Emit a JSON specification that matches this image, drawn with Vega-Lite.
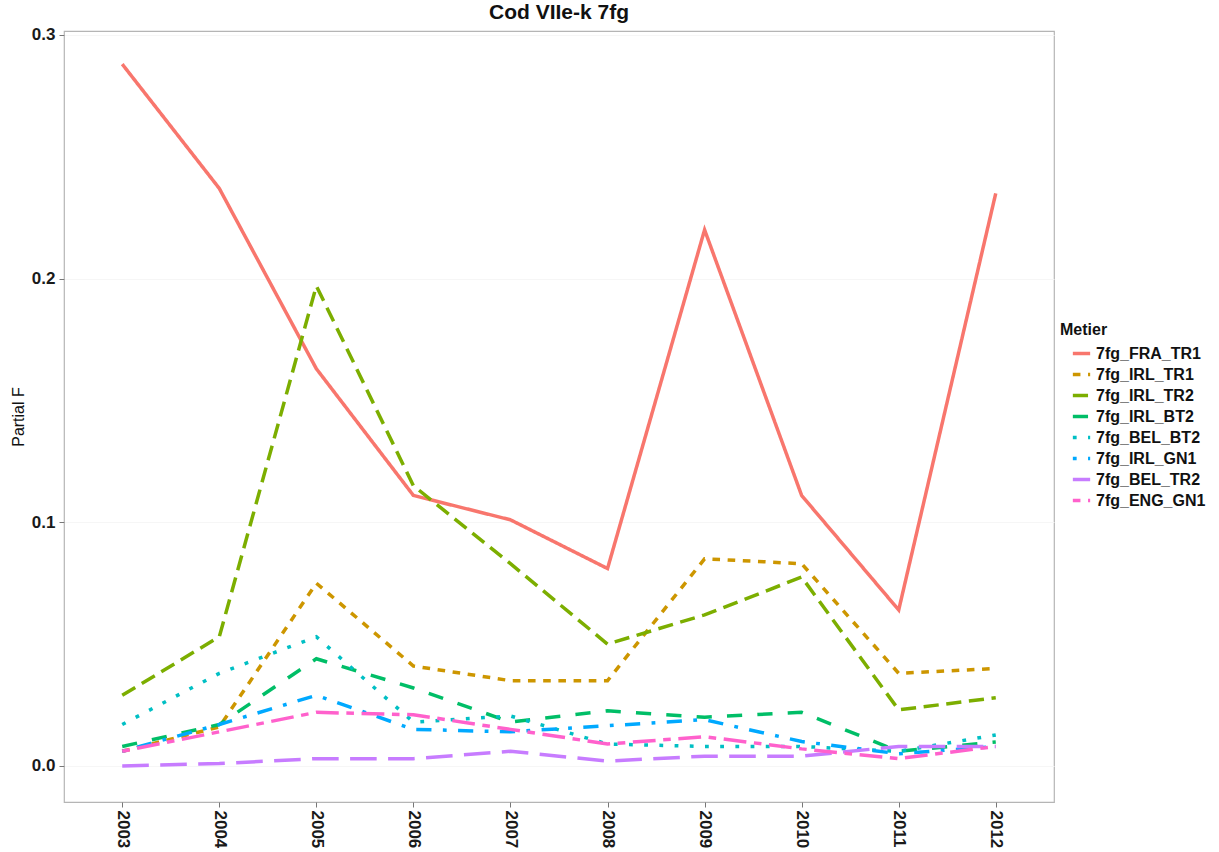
{
  "$schema": "https://vega.github.io/schema/vega-lite/v6.json",
  "autosize": "none",
  "width": 990,
  "height": 771,
  "padding": {"left": 64, "top": 31, "right": 165, "bottom": 50},
  "background": "white",
  "title": {"text": "Cod VIIe-k 7fg", "font": "Liberation Sans", "fontSize": 21, "fontWeight": "bold", "color": "#111111", "anchor": "middle", "offset": 3},
  "config": {
    "view": {"stroke": "#b5b5b5", "strokeWidth": 1.2},
    "font": "Liberation Sans"
  },
  "data": {"values": [
    {"year": "2003", "metier": "7fg_FRA_TR1", "f": 0.288},
    {"year": "2004", "metier": "7fg_FRA_TR1", "f": 0.237},
    {"year": "2005", "metier": "7fg_FRA_TR1", "f": 0.163},
    {"year": "2006", "metier": "7fg_FRA_TR1", "f": 0.111},
    {"year": "2007", "metier": "7fg_FRA_TR1", "f": 0.101},
    {"year": "2008", "metier": "7fg_FRA_TR1", "f": 0.081},
    {"year": "2009", "metier": "7fg_FRA_TR1", "f": 0.220},
    {"year": "2010", "metier": "7fg_FRA_TR1", "f": 0.111},
    {"year": "2011", "metier": "7fg_FRA_TR1", "f": 0.064},
    {"year": "2012", "metier": "7fg_FRA_TR1", "f": 0.235},
    {"year": "2003", "metier": "7fg_IRL_TR1", "f": 0.006},
    {"year": "2004", "metier": "7fg_IRL_TR1", "f": 0.016},
    {"year": "2005", "metier": "7fg_IRL_TR1", "f": 0.075},
    {"year": "2006", "metier": "7fg_IRL_TR1", "f": 0.041},
    {"year": "2007", "metier": "7fg_IRL_TR1", "f": 0.035},
    {"year": "2008", "metier": "7fg_IRL_TR1", "f": 0.035},
    {"year": "2009", "metier": "7fg_IRL_TR1", "f": 0.085},
    {"year": "2010", "metier": "7fg_IRL_TR1", "f": 0.083},
    {"year": "2011", "metier": "7fg_IRL_TR1", "f": 0.038},
    {"year": "2012", "metier": "7fg_IRL_TR1", "f": 0.040},
    {"year": "2003", "metier": "7fg_IRL_TR2", "f": 0.029},
    {"year": "2004", "metier": "7fg_IRL_TR2", "f": 0.053},
    {"year": "2005", "metier": "7fg_IRL_TR2", "f": 0.197},
    {"year": "2006", "metier": "7fg_IRL_TR2", "f": 0.115},
    {"year": "2007", "metier": "7fg_IRL_TR2", "f": 0.083},
    {"year": "2008", "metier": "7fg_IRL_TR2", "f": 0.050},
    {"year": "2009", "metier": "7fg_IRL_TR2", "f": 0.062},
    {"year": "2010", "metier": "7fg_IRL_TR2", "f": 0.0775},
    {"year": "2011", "metier": "7fg_IRL_TR2", "f": 0.023},
    {"year": "2012", "metier": "7fg_IRL_TR2", "f": 0.028},
    {"year": "2003", "metier": "7fg_IRL_BT2", "f": 0.008},
    {"year": "2004", "metier": "7fg_IRL_BT2", "f": 0.017},
    {"year": "2005", "metier": "7fg_IRL_BT2", "f": 0.044},
    {"year": "2006", "metier": "7fg_IRL_BT2", "f": 0.032},
    {"year": "2007", "metier": "7fg_IRL_BT2", "f": 0.018},
    {"year": "2008", "metier": "7fg_IRL_BT2", "f": 0.0226},
    {"year": "2009", "metier": "7fg_IRL_BT2", "f": 0.020},
    {"year": "2010", "metier": "7fg_IRL_BT2", "f": 0.022},
    {"year": "2011", "metier": "7fg_IRL_BT2", "f": 0.006},
    {"year": "2012", "metier": "7fg_IRL_BT2", "f": 0.0098},
    {"year": "2003", "metier": "7fg_BEL_BT2", "f": 0.017},
    {"year": "2004", "metier": "7fg_BEL_BT2", "f": 0.038},
    {"year": "2005", "metier": "7fg_BEL_BT2", "f": 0.053},
    {"year": "2006", "metier": "7fg_BEL_BT2", "f": 0.018},
    {"year": "2007", "metier": "7fg_BEL_BT2", "f": 0.0205},
    {"year": "2008", "metier": "7fg_BEL_BT2", "f": 0.009},
    {"year": "2009", "metier": "7fg_BEL_BT2", "f": 0.008},
    {"year": "2010", "metier": "7fg_BEL_BT2", "f": 0.008},
    {"year": "2011", "metier": "7fg_BEL_BT2", "f": 0.006},
    {"year": "2012", "metier": "7fg_BEL_BT2", "f": 0.0127},
    {"year": "2003", "metier": "7fg_IRL_GN1", "f": 0.006},
    {"year": "2004", "metier": "7fg_IRL_GN1", "f": 0.017},
    {"year": "2005", "metier": "7fg_IRL_GN1", "f": 0.029},
    {"year": "2006", "metier": "7fg_IRL_GN1", "f": 0.015},
    {"year": "2007", "metier": "7fg_IRL_GN1", "f": 0.014},
    {"year": "2008", "metier": "7fg_IRL_GN1", "f": 0.0165},
    {"year": "2009", "metier": "7fg_IRL_GN1", "f": 0.019},
    {"year": "2010", "metier": "7fg_IRL_GN1", "f": 0.010},
    {"year": "2011", "metier": "7fg_IRL_GN1", "f": 0.005},
    {"year": "2012", "metier": "7fg_IRL_GN1", "f": 0.008},
    {"year": "2003", "metier": "7fg_BEL_TR2", "f": 0.000},
    {"year": "2004", "metier": "7fg_BEL_TR2", "f": 0.001},
    {"year": "2005", "metier": "7fg_BEL_TR2", "f": 0.003},
    {"year": "2006", "metier": "7fg_BEL_TR2", "f": 0.003},
    {"year": "2007", "metier": "7fg_BEL_TR2", "f": 0.006},
    {"year": "2008", "metier": "7fg_BEL_TR2", "f": 0.002},
    {"year": "2009", "metier": "7fg_BEL_TR2", "f": 0.004},
    {"year": "2010", "metier": "7fg_BEL_TR2", "f": 0.004},
    {"year": "2011", "metier": "7fg_BEL_TR2", "f": 0.008},
    {"year": "2012", "metier": "7fg_BEL_TR2", "f": 0.008},
    {"year": "2003", "metier": "7fg_ENG_GN1", "f": 0.006},
    {"year": "2004", "metier": "7fg_ENG_GN1", "f": 0.014},
    {"year": "2005", "metier": "7fg_ENG_GN1", "f": 0.022},
    {"year": "2006", "metier": "7fg_ENG_GN1", "f": 0.021},
    {"year": "2007", "metier": "7fg_ENG_GN1", "f": 0.015},
    {"year": "2008", "metier": "7fg_ENG_GN1", "f": 0.009},
    {"year": "2009", "metier": "7fg_ENG_GN1", "f": 0.012},
    {"year": "2010", "metier": "7fg_ENG_GN1", "f": 0.007},
    {"year": "2011", "metier": "7fg_ENG_GN1", "f": 0.003},
    {"year": "2012", "metier": "7fg_ENG_GN1", "f": 0.008}
  ]},
  "mark": {"type": "line", "strokeWidth": 3.5, "strokeCap": "butt"},
  "encoding": {
    "x": {
      "field": "year", "type": "ordinal",
      "scale": {"type": "point", "padding": 0.6},
      "axis": {
        "title": null, "labelAngle": 90, "labelAlign": "left", "labelBaseline": "middle",
        "labelFont": "Liberation Sans", "labelFontSize": 17, "labelFontWeight": "bold", "labelColor": "#1a1a1a",
        "tickColor": "#777777", "tickSize": 5, "labelPadding": 3, "domain": false, "grid": false
      }
    },
    "y": {
      "field": "f", "type": "quantitative",
      "scale": {"domain": [-0.0148, 0.3016], "nice": false, "zero": false},
      "axis": {
        "title": "Partial F", "titleFont": "Liberation Sans", "titleFontSize": 16, "titleFontWeight": "normal", "titleColor": "#111111",
        "titlePadding": 5,
        "values": [0, 0.1, 0.2, 0.3], "format": ".1f",
        "labelFont": "Liberation Sans", "labelFontSize": 17, "labelFontWeight": "bold", "labelColor": "#1a1a1a",
        "tickColor": "#777777", "tickSize": 5, "labelPadding": 4, "domain": false,
        "grid": true, "gridColor": "#f6f6f6", "gridWidth": 1
      }
    },
    "color": {
      "field": "metier", "type": "nominal",
      "scale": {
        "domain": ["7fg_FRA_TR1", "7fg_IRL_TR1", "7fg_IRL_TR2", "7fg_IRL_BT2", "7fg_BEL_BT2", "7fg_IRL_GN1", "7fg_BEL_TR2", "7fg_ENG_GN1"],
        "range": ["#F8766D", "#CD9600", "#7CAE00", "#00BE67", "#00BFC4", "#00A9FF", "#C77CFF", "#FF61CC"]
      },
      "legend": {
        "title": "Metier", "orient": "none", "legendX": 996, "legendY": 291,
        "titleFont": "Liberation Sans", "titleFontSize": 16, "titleFontWeight": "bold", "titleColor": "#111111",
        "labelFont": "Liberation Sans", "labelFontSize": 16, "labelFontWeight": "bold", "labelColor": "#111111",
        "symbolType": "stroke", "symbolSize": 300, "symbolStrokeWidth": 3.5, "symbolOffset": 11, "rowPadding": 2, "labelOffset": 4,
        "titlePadding": 5
      }
    },
    "strokeDash": {
      "field": "metier", "type": "nominal",
      "scale": {
        "domain": ["7fg_FRA_TR1", "7fg_IRL_TR1", "7fg_IRL_TR2", "7fg_IRL_BT2", "7fg_BEL_BT2", "7fg_IRL_GN1", "7fg_BEL_TR2", "7fg_ENG_GN1"],
        "range": [[1, 0], [7.6, 7.6], [15.2, 7.6], [15.2, 15.2], [3.8, 11.4], [3.8, 11.4, 15.2, 11.4], [26.6, 11.4], [7.6, 7.6, 22.8, 7.6]]
      },
      "legend": null
    }
  }
}
